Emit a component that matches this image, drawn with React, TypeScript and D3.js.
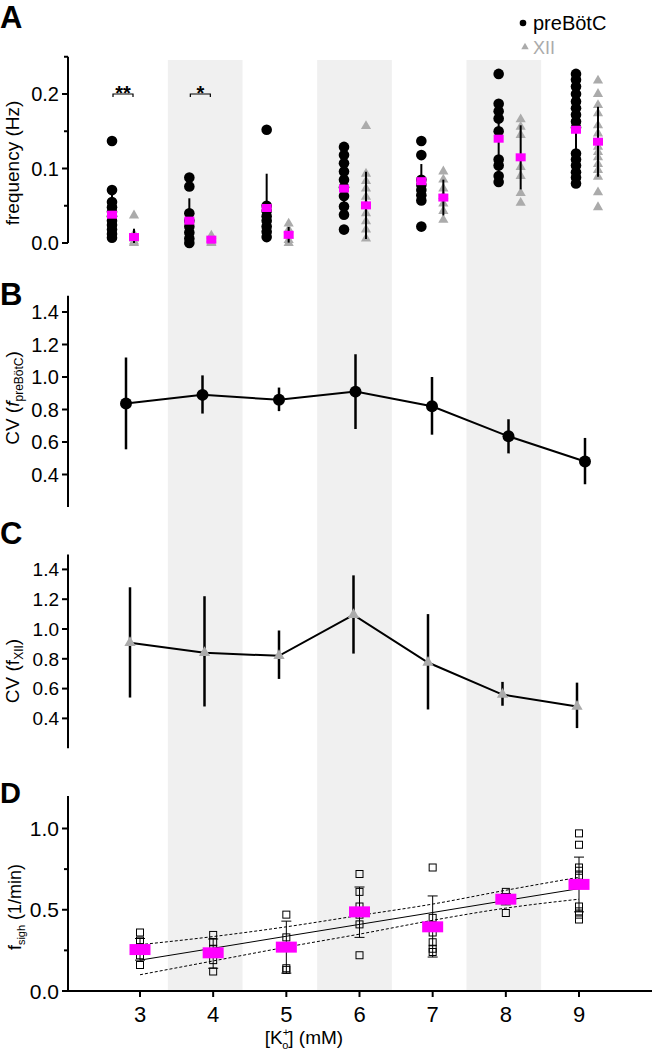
import React from 'react';
import * as d3 from 'd3';

// ---------- data ----------
const categories = [3, 4, 5, 6, 7, 8, 9];
const shadedCategories = [4, 6, 8];

// Panel A: frequency (Hz)
const preBotPoints: number[][] = [
  [0.137, 0.071, 0.055, 0.048, 0.042, 0.036, 0.030, 0.024, 0.018, 0.012, 0.007],
  [0.088, 0.076, 0.040, 0.030, 0.022, 0.014, 0.006, 0.0],
  [0.152, 0.050, 0.043, 0.036, 0.030, 0.022, 0.015, 0.008],
  [0.129, 0.118, 0.107, 0.096, 0.085, 0.075, 0.063, 0.049, 0.038, 0.018],
  [0.137, 0.118, 0.085, 0.078, 0.071, 0.064, 0.057, 0.022],
  [0.227, 0.187, 0.177, 0.167, 0.150, 0.112, 0.104, 0.090, 0.082],
  [0.227, 0.219, 0.210, 0.200, 0.190, 0.181, 0.172, 0.163, 0.155, 0.120, 0.112, 0.104, 0.095, 0.088, 0.080],
];
const xiiPoints: number[][] = [
  [0.037, 0.012, 0.006, 0.002, 0.0],
  [0.010, 0.005, 0.001, 0.0],
  [0.026, 0.018, 0.010, 0.004, 0.0],
  [0.157, 0.093, 0.083, 0.073, 0.062, 0.052, 0.040, 0.029, 0.018, 0.006],
  [0.096, 0.085, 0.073, 0.063, 0.053, 0.043, 0.031],
  [0.166, 0.156, 0.145, 0.102, 0.090, 0.067, 0.054],
  [0.218, 0.200, 0.185, 0.174, 0.158, 0.147, 0.129, 0.122, 0.115, 0.106, 0.098, 0.089, 0.068, 0.048],
];
const preBotMean = [0.038, 0.030, 0.047, 0.073, 0.083, 0.140, 0.152];
const preBotSD = [0.030, 0.030, 0.046, 0.035, 0.023, 0.045, 0.045];
const xiiMean = [0.008, 0.0045, 0.011, 0.0505, 0.061, 0.115, 0.136];
const xiiSD = [0.011, 0.004, 0.0105, 0.045, 0.024, 0.043, 0.047];
const freqTicks = [0, 0.1, 0.2];
const freqMinorTicks = [0.05, 0.15, 0.25];
const significance = [
  { cat: 3, label: '**' },
  { cat: 4, label: '*' },
];

// Panel B: CV preBötC
const cvPreBotMean = [0.837, 0.89, 0.86, 0.91, 0.82, 0.635, 0.48];
const cvPreBotLow = [0.555, 0.775, 0.79, 0.68, 0.645, 0.53, 0.34];
const cvPreBotHigh = [1.12, 1.01, 0.935, 1.14, 1.0, 0.74, 0.625];

// Panel C: CV XII
const cvXiiMean = [0.907, 0.84, 0.82, 1.095, 0.775, 0.56, 0.48];
const cvXiiLow = [0.54, 0.48, 0.665, 0.835, 0.46, 0.485, 0.335];
const cvXiiHigh = [1.28, 1.22, 0.99, 1.36, 1.10, 0.645, 0.64];
const cvTicks = [0.4, 0.6, 0.8, 1.0, 1.2, 1.4];

// Panel D: sigh frequency (1/min)
const sighPoints: number[][] = [
  [0.36, 0.31, 0.27, 0.22, 0.16],
  [0.345, 0.30, 0.26, 0.19, 0.12],
  [0.47, 0.33, 0.14, 0.13],
  [0.72, 0.61, 0.52, 0.47, 0.41, 0.22],
  [0.76, 0.45, 0.36, 0.30, 0.26, 0.24],
  [0.61, 0.48],
  [0.97, 0.90, 0.76, 0.74, 0.71, 0.52, 0.49, 0.47, 0.44],
];
const sighMean = [0.255, 0.235, 0.27, 0.487, 0.395, 0.565, 0.656];
const sighLow = [0.19, 0.14, 0.11, 0.33, 0.209, 0.53, 0.487];
const sighHigh = [0.323, 0.32, 0.43, 0.64, 0.585, 0.60, 0.824];
const sighFit = [0.19, 0.263, 0.337, 0.41, 0.483, 0.557, 0.63];
const sighFitUpper = [0.285, 0.335, 0.395, 0.465, 0.535, 0.62, 0.70];
const sighFitLower = [0.10, 0.185, 0.27, 0.35, 0.435, 0.51, 0.565];
const sighTicks = [0, 0.5, 1.0];
const sighMinorTicks = [0.25, 0.75];

// ---------- layout ----------
const W = 653;
const H = 1055;
const FONT = '"Liberation Sans", Arial, Helvetica, sans-serif';
const MAGENTA = '#ff00ff';
const GRAY = '#ababab';
const BAND = '#f0f0f0';
const AXIS_X = 68;

const xBand = d3.scaleLinear().domain([3, 9]).range([130.5, 578.5]);
const xA = d3.scaleLinear().domain([3, 9]).range([123, 587]);
const xB = d3.scaleLinear().domain([3, 9]).range([126, 585]);
const xC = d3.scaleLinear().domain([3, 9]).range([130, 577]);
const xD = d3.scaleLinear().domain([3, 9]).range([140, 579]);

const yA = d3.scaleLinear().domain([0, 0.25]).range([243, 56.75]);
const yB = d3.scaleLinear().domain([0.2, 1.5]).range([507, 295.75]);
const yC = d3.scaleLinear().domain([0.2, 1.5]).range([748.2, 554.5]);
const yD = d3.scaleLinear().domain([0, 1.2]).range([991, 796]);

const triA = d3.symbol(d3.symbolTriangle, 45)()!;
const triC = d3.symbol(d3.symbolTriangle, 55)()!;
const triLeg = d3.symbol(d3.symbolTriangle, 24)()!;

type YAxisProps = {
  scale: d3.ScaleLinear<number, number>;
  ticks: number[];
  minor?: number[];
  fmt: (v: number) => string;
  fontSize: number;
};

function YAxis({ scale, ticks, minor = [], fmt, fontSize }: YAxisProps) {
  const [d0, d1] = scale.domain();
  return (
    <g>
      <line x1={AXIS_X} x2={AXIS_X} y1={scale(d0)} y2={scale(d1)} stroke="#000" strokeWidth={2} />
      {ticks.map((t) => (
        <g key={'t' + t}>
          <line x1={AXIS_X - 6} x2={AXIS_X} y1={scale(t)} y2={scale(t)} stroke="#000" strokeWidth={2} />
          <text
            x={AXIS_X - 9}
            y={scale(t)}
            dy="0.36em"
            textAnchor="end"
            fontSize={fontSize}
            fontFamily={FONT}
            fill="#000"
          >
            {fmt(t)}
          </text>
        </g>
      ))}
      {minor.map((t) => (
        <line key={'m' + t} x1={AXIS_X - 4} x2={AXIS_X} y1={scale(t)} y2={scale(t)} stroke="#000" strokeWidth={2} />
      ))}
    </g>
  );
}

export default function App() {
  const f1 = d3.format('.1f');
  const lineB = d3
    .line<number>()
    .x((_, i) => xB(categories[i]))
    .y((d) => yB(d));
  const lineC = d3
    .line<number>()
    .x((_, i) => xC(categories[i]))
    .y((d) => yC(d));
  const lineD = d3
    .line<number>()
    .x((_, i) => xD(categories[i]))
    .y((d) => yD(d));
  const curveD = d3
    .line<number>()
    .x((_, i) => xD(categories[i]))
    .y((d) => yD(d))
    .curve(d3.curveMonotoneX);

  const bandW = xBand(4) - xBand(3);

  return (
    <svg
      width={W}
      height={H}
      viewBox={`0 0 ${W} ${H}`}
      style={{ position: 'absolute', left: 0, top: 0, background: '#fff' }}
      fontFamily={FONT}
    >
      <rect x={0} y={0} width={W} height={H} fill="#fff" />
      {/* shaded bands */}
      {shadedCategories.map((c) => (
        <rect key={c} x={xBand(c) - bandW / 2} y={60} width={bandW} height={yD(0) - 60} fill={BAND} />
      ))}

      {/* ---------- Panel A ---------- */}
      <text x={0} y={28} fontSize={31} fontWeight="bold" fontFamily={FONT}>A</text>
      <YAxis scale={yA} ticks={freqTicks} minor={freqMinorTicks} fmt={f1} fontSize={20} />
      <text transform={`translate(19,${163}) rotate(-90)`} textAnchor="middle" fontSize={19} fontFamily={FONT}>
        frequency (Hz)
      </text>
      {categories.map((c, i) => {
        const xc = xA(c) - 11;
        const xt = xA(c) + 11;
        return (
          <g key={'A' + c}>
            {preBotPoints[i].map((v, j) => (
              <circle key={'p' + j} cx={xc} cy={yA(v)} r={5.3} fill="#000" />
            ))}
            {xiiPoints[i].map((v, j) => (
              <path key={'x' + j} d={triA} transform={`translate(${xt},${yA(v)})`} fill={GRAY} />
            ))}
            <line
              x1={xc}
              x2={xc}
              y1={yA(Math.max(0, preBotMean[i] - preBotSD[i]))}
              y2={yA(preBotMean[i] + preBotSD[i])}
              stroke="#000"
              strokeWidth={2}
            />
            <line
              x1={xt}
              x2={xt}
              y1={yA(Math.max(0, xiiMean[i] - xiiSD[i]))}
              y2={yA(xiiMean[i] + xiiSD[i])}
              stroke="#000"
              strokeWidth={2}
            />
            <rect x={xc - 5} y={yA(preBotMean[i]) - 4} width={10} height={8} fill={MAGENTA} />
            <rect x={xt - 5} y={yA(xiiMean[i]) - 4} width={10} height={8} fill={MAGENTA} />
          </g>
        );
      })}
      {significance.map((s) => {
        const x1 = xA(s.cat) - 10;
        const x2 = xA(s.cat) + 10;
        const y = yA(0.2);
        return (
          <g key={'s' + s.cat}>
            <path d={`M${x1},${y + 3}V${y}H${x2}V${y + 3}`} fill="none" stroke="#000" strokeWidth={1.2} />
            <text x={xA(s.cat)} y={y + 6} textAnchor="middle" fontSize={20} fontWeight="bold" fontFamily={FONT}>
              {s.label}
            </text>
          </g>
        );
      })}
      {/* legend */}
      <circle cx={523} cy={23} r={3.3} fill="#000" />
      <text x={533} y={30} fontSize={20} fontFamily={FONT} fill="#000">preBötC</text>
      <path d={triLeg} transform="translate(525,47)" fill={GRAY} />
      <text x={533} y={54} fontSize={18} fontFamily={FONT} fill={GRAY}>XII</text>

      {/* ---------- Panel B ---------- */}
      <text x={0} y={305} fontSize={31} fontWeight="bold" fontFamily={FONT}>B</text>
      <YAxis scale={yB} ticks={cvTicks} fmt={f1} fontSize={20} />
      <text transform={`translate(19,${398}) rotate(-90)`} textAnchor="middle" fontSize={19} fontFamily={FONT}>
        CV (<tspan fontStyle="italic">f</tspan>
        <tspan fontSize={12} dy={4}>preBötC</tspan>
        <tspan dy={-4}>)</tspan>
      </text>
      <path d={lineB(cvPreBotMean)!} fill="none" stroke="#000" strokeWidth={2} />
      {categories.map((c, i) => (
        <g key={'B' + c}>
          <line
            x1={xB(c)}
            x2={xB(c)}
            y1={yB(cvPreBotLow[i])}
            y2={yB(cvPreBotHigh[i])}
            stroke="#000"
            strokeWidth={2.5}
          />
          <circle cx={xB(c)} cy={yB(cvPreBotMean[i])} r={6} fill="#000" />
        </g>
      ))}

      {/* ---------- Panel C ---------- */}
      <text x={0} y={544} fontSize={31} fontWeight="bold" fontFamily={FONT}>C</text>
      <YAxis scale={yC} ticks={cvTicks} fmt={f1} fontSize={19} />
      <text transform={`translate(19,${671}) rotate(-90)`} textAnchor="middle" fontSize={19} fontFamily={FONT}>
        CV (f<tspan fontSize={12} dy={4}>XII</tspan>
        <tspan dy={-4}>)</tspan>
      </text>
      <path d={lineC(cvXiiMean)!} fill="none" stroke="#000" strokeWidth={2} />
      {categories.map((c, i) => (
        <g key={'C' + c}>
          <line
            x1={xC(c)}
            x2={xC(c)}
            y1={yC(cvXiiLow[i])}
            y2={yC(cvXiiHigh[i])}
            stroke="#000"
            strokeWidth={2.5}
          />
          <path d={triC} transform={`translate(${xC(c)},${yC(cvXiiMean[i])})`} fill={GRAY} />
        </g>
      ))}

      {/* ---------- Panel D ---------- */}
      <text x={0} y={803} fontSize={29} fontWeight="bold" fontFamily={FONT}>D</text>
      <YAxis scale={yD} ticks={sighTicks} minor={sighMinorTicks} fmt={f1} fontSize={21} />
      <text transform={`translate(21,${907}) rotate(-90)`} textAnchor="middle" fontSize={18} fontFamily={FONT}>
        f<tspan fontSize={11} dy={4}>sigh</tspan>
        <tspan dy={-4}> (1/min)</tspan>
      </text>
      {/* x axis */}
      <line x1={AXIS_X - 1} x2={652} y1={yD(0)} y2={yD(0)} stroke="#000" strokeWidth={2} />
      {categories.map((c) => (
        <g key={'xt' + c}>
          <line x1={xD(c)} x2={xD(c)} y1={yD(0)} y2={yD(0) + 6} stroke="#000" strokeWidth={2} />
          <text x={xD(c)} y={1022} textAnchor="middle" fontSize={22} fontFamily={FONT}>
            {c}
          </text>
        </g>
      ))}
      <text x={304} y={1044} textAnchor="middle" fontSize={19} fontFamily={FONT}>
        [K<tspan fontSize={11} dy={-8}>+</tspan>
        <tspan fontSize={11} dx={-7} dy={13}>o</tspan>
        <tspan dy={-5}>] (mM)</tspan>
      </text>
      {/* regression and confidence */}
      <path d={lineD(sighFit)!} fill="none" stroke="#000" strokeWidth={1} />
      <path d={curveD(sighFitUpper)!} fill="none" stroke="#000" strokeWidth={1} strokeDasharray="3,2" />
      <path d={curveD(sighFitLower)!} fill="none" stroke="#000" strokeWidth={1} strokeDasharray="3,2" />
      {categories.map((c, i) => (
        <g key={'D' + c}>
          {sighPoints[i].map((v, j) => (
            <rect key={j} x={xD(c) - 3.5} y={yD(v) - 3.5} width={7} height={7} fill="none" stroke="#000" strokeWidth={1} />
          ))}
          <line x1={xD(c)} x2={xD(c)} y1={yD(sighLow[i])} y2={yD(sighHigh[i])} stroke="#000" strokeWidth={1} />
          <line x1={xD(c) - 5} x2={xD(c) + 5} y1={yD(sighLow[i])} y2={yD(sighLow[i])} stroke="#000" strokeWidth={1} />
          <line x1={xD(c) - 5} x2={xD(c) + 5} y1={yD(sighHigh[i])} y2={yD(sighHigh[i])} stroke="#000" strokeWidth={1} />
          <rect x={xD(c) - 10.5} y={yD(sighMean[i]) - 5.5} width={21} height={11} fill={MAGENTA} />
        </g>
      ))}
    </svg>
  );
}
